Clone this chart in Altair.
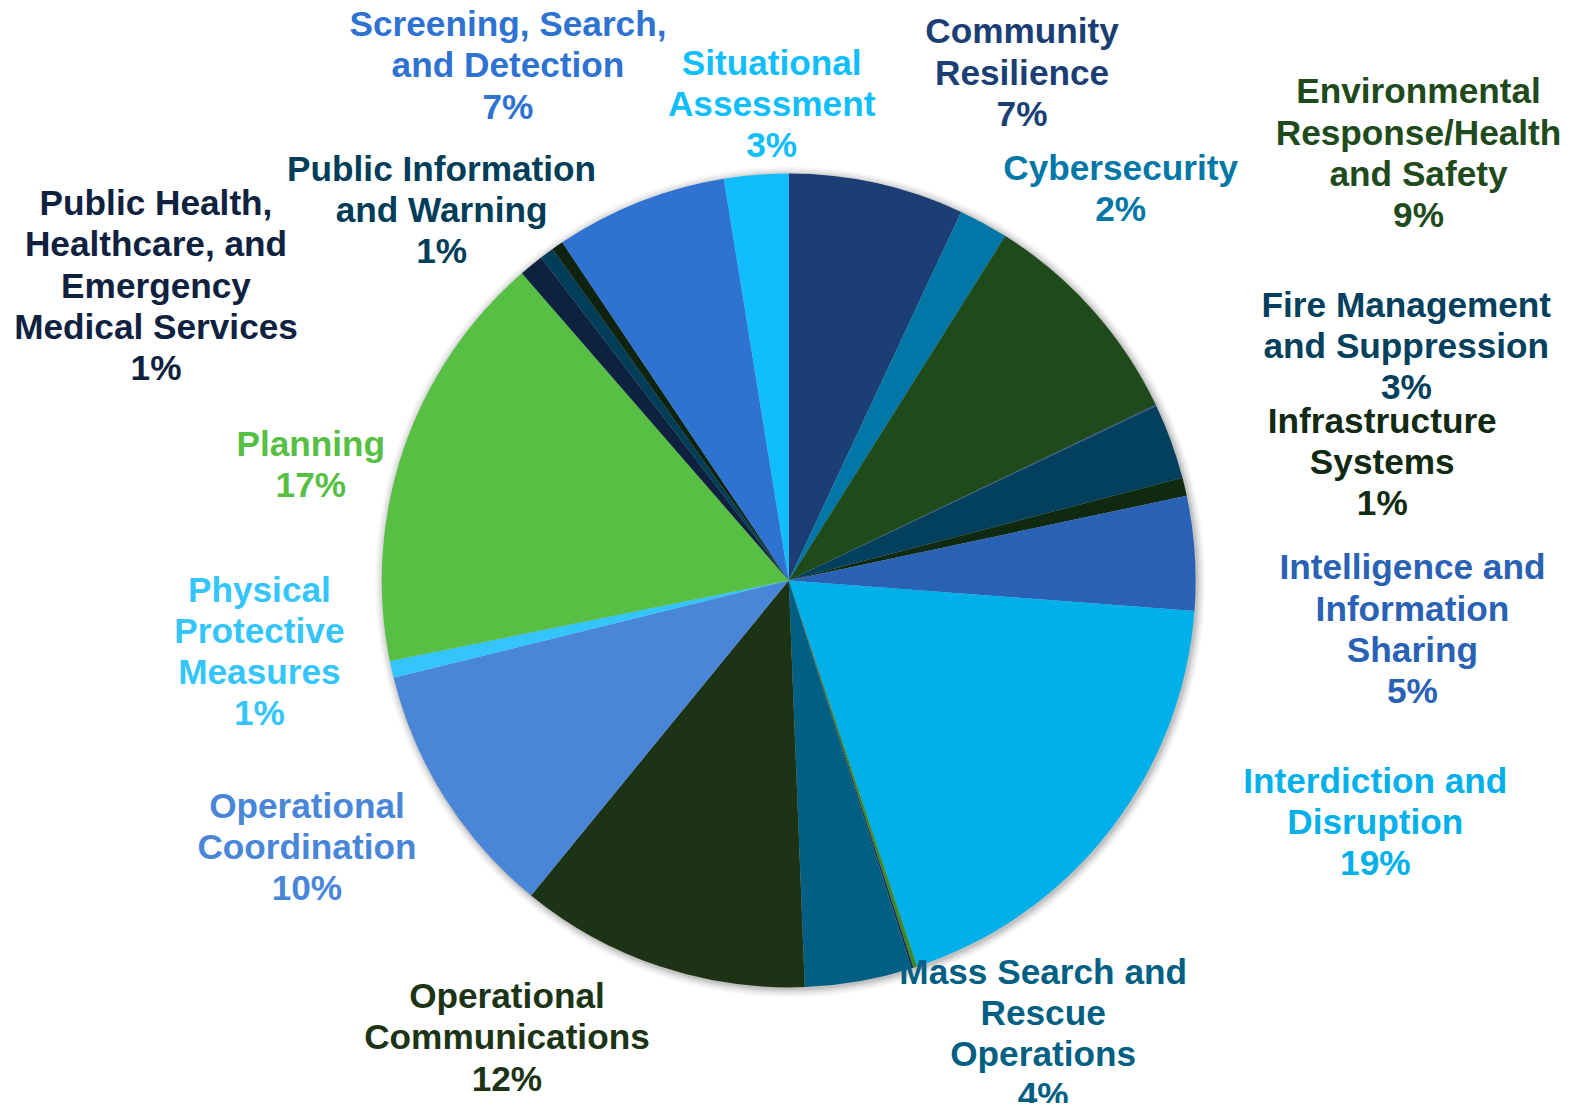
import altair as alt
import pandas as pd

# ---- data (clockwise from 12 o'clock) ----
names = [
    "Community Resilience", "Cybersecurity", "Environmental Response/Health and Safety",
    "Fatality Management Services", "Fire Management and Suppression", "Infrastructure Systems",
    "Intelligence and Information Sharing", "Interdiction and Disruption",
    "Logistics and Supply Chain Management", "Long-term Vulnerability Reduction",
    "Mass Search and Rescue Operations", "Operational Communications", "Operational Coordination",
    "Physical Protective Measures", "Planning",
    "Public Health, Healthcare, and Emergency Medical Services", "Public Information and Warning",
    "Risk Management for Protection Programs and Activities", "Screening, Search, and Detection",
    "Situational Assessment",
]
values = [6.97, 1.97, 8.97, 0.05, 3.0, 0.72, 4.54, 18.7, 0.16, 0.08,
          4.25, 11.55, 10.25, 0.68, 16.8, 0.97, 0.56, 0.46, 6.85, 2.55]
colors = ["#1b3f75", "#0077a6", "#1f4a1c", "#2a4a8a", "#02405e", "#0f2a10",
          "#2962b5", "#00b0ea", "#3c8a2e", "#1c2c5a", "#005f82", "#1c3415",
          "#4a86d8", "#33c5fc", "#57c044", "#0e2240", "#003d58", "#0f2410",
          "#2e72d2", "#10bdfd"]

# ---- labels (only the slices labelled in the chart) ----
label_names = [
    "Community Resilience", "Cybersecurity", "Environmental Response/Health and Safety",
    "Fire Management and Suppression", "Infrastructure Systems",
    "Intelligence and Information Sharing", "Interdiction and Disruption",
    "Mass Search and Rescue Operations", "Operational Communications", "Operational Coordination",
    "Physical Protective Measures", "Planning",
    "Public Health, Healthcare, and Emergency Medical Services", "Public Information and Warning",
    "Screening, Search, and Detection", "Situational Assessment",
]
label_texts = [
    "Community\nResilience", "Cybersecurity", "Environmental\nResponse/Health\nand Safety",
    "Fire Management\nand Suppression", "Infrastructure\nSystems",
    "Intelligence and\nInformation\nSharing", "Interdiction and\nDisruption",
    "Mass Search and\nRescue\nOperations", "Operational\nCommunications", "Operational\nCoordination",
    "Physical\nProtective\nMeasures", "Planning",
    "Public Health,\nHealthcare, and\nEmergency\nMedical Services", "Public Information\nand Warning",
    "Screening, Search,\nand Detection", "Situational\nAssessment",
]
label_pcts = ["7%", "2%", "9%", "3%", "1%", "5%", "19%", "4%", "12%", "10%",
              "1%", "17%", "1%", "1%", "7%", "3%"]

# ---- label layout: anchor of first line (angle clockwise from 12 o'clock, degrees;
#      distance as a multiple of the pie radius) ----
label_angle = [23.06, 38.90, 52.23, 66.03, 75.01, 88.89, 108.94, 147.03,
               214.07, 244.84, 268.91, 285.87, 300.74, 319.78, 333.18, 358.11]
label_rfac = [1.464, 1.299, 1.958, 1.661, 1.510, 1.533, 1.524, 1.149,
              1.236, 1.308, 1.301, 1.221, 1.809, 1.321, 1.529, 1.271]

K = 1.006                      # compensation for page scaling
R = 404.5 * K
CX, CY = 784 * K - 8, 577 * K - 8
W, H = 1555, 1095
FS, LH = 35 * K, 41 * K

pie_df = pd.DataFrame({"name": names, "value": values, "idx": list(range(len(names)))})
lab_df = pd.DataFrame({
    "name": label_names,
    "label": [t + "\n" + p for t, p in zip(label_texts, label_pcts)],
    "ang": label_angle,
    "rf": label_rfac,
})

color_scale = alt.Scale(domain=names, range=colors)

# soft shadow around the pie
shadow_layers = []
for rr, op in [(R + 8, 0.035), (R + 6, 0.045), (R + 4, 0.05), (R + 2.5, 0.06), (R + 1, 0.07)]:
    shadow_layers.append(
        alt.Chart(alt.Data(values=[{"a": 1}])).mark_arc(
            radius=rr, theta=0, theta2=6.2832, color="#000000", opacity=op
        ).encode(x=alt.value(CX + 1.5), y=alt.value(CY + 1.5))
    )

pie = alt.Chart(pie_df).mark_arc(radius=R).encode(
    theta=alt.Theta("value:Q", stack=True),
    order=alt.Order("idx:Q", sort="ascending"),
    color=alt.Color("name:N", scale=color_scale, legend=None),
    x=alt.value(CX),
    y=alt.value(CY),
)

labels = alt.Chart(lab_df).mark_text(
    lineBreak="\n", align="center", baseline="middle",
    font="Liberation Sans", fontWeight="bold", fontSize=FS, lineHeight=LH,
).encode(
    theta=alt.Theta("ang:Q", stack=None, scale=alt.Scale(domain=[0, 360], range=[0, 6.283185307179586])),
    radius=alt.Radius("rf:Q", scale=alt.Scale(type="linear", domain=[0, 1], range=[0, R], zero=True)),
    text=alt.Text("label:N"),
    color=alt.Color("name:N", scale=color_scale, legend=None),
    x=alt.value(CX),
    y=alt.value(CY),
)

chart = alt.layer(*shadow_layers, pie, labels).resolve_scale(
    theta="independent", radius="independent"
).properties(
    width=W, height=H, padding=0, autosize=alt.AutoSizeParams(type="none"),
    background="white",
).configure_view(stroke=None)

chart.save("out.html", embed_options={"renderer": "svg", "actions": False})
